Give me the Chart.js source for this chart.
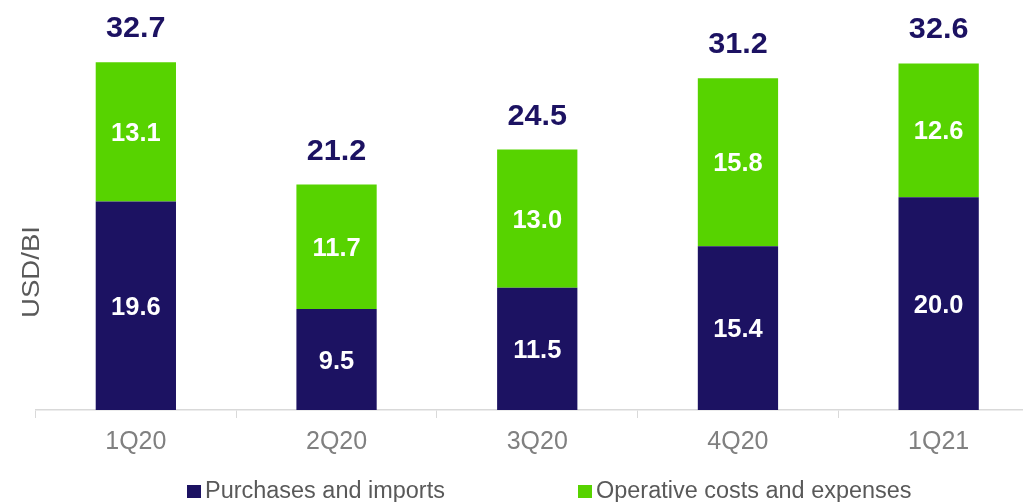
<!DOCTYPE html>
<html>
<head>
<meta charset="utf-8">
<script src="https://cdn.jsdelivr.net/npm/chart.js@4.4.1/dist/chart.umd.min.js"></script>
<style>
  html, body { margin: 0; padding: 0; background: #fff; overflow: hidden; }
  #wrap { position: relative; width: 1060px; height: 502px; }
</style>
</head>
<body>
<div id="wrap"><canvas id="mycanvas"></canvas></div>
<script>
var quarters = ["1Q20", "2Q20", "3Q20", "4Q20", "1Q21"];
var purchases = [19.6, 9.5, 11.5, 15.4, 20.0];
var operative = [13.1, 11.7, 13.0, 15.8, 12.6];
var totals = [32.7, 21.2, 24.5, 31.2, 32.6];

var navy = "#1c1262";
var green = "#57d300";
var fontFamily = "'Liberation Sans', Arial, sans-serif";

// text with a slight horizontal stretch
function drawText(ctx, text, x, y, font, color, sx, align) {
	ctx.save();
	ctx.font = font;
	ctx.fillStyle = color;
	ctx.textAlign = align || "center";
	ctx.textBaseline = "alphabetic";
	ctx.translate(x, y);
	ctx.scale(sx, 1);
	ctx.fillText(text, 0, 0);
	ctx.restore();
}

// value labels inside segments, totals above, axis title and legend
var labelPlugin = {
	id: "labels",
	afterDatasetsDraw: function(chart) {
		var ctx = chart.ctx;

		chart.data.datasets.forEach(function(ds, di) {
			var meta = chart.getDatasetMeta(di);
			meta.data.forEach(function(bar, i) {
				var mid = (bar.y + bar.base) / 2;
				drawText(ctx, ds.data[i].toFixed(1), bar.x, mid + 9, "bold 25px " + fontFamily, "#ffffff", 1.02);
			});
		});

		var top = chart.getDatasetMeta(1);
		top.data.forEach(function(bar, i) {
			drawText(ctx, totals[i].toFixed(1), bar.x, bar.y - 25, "bold 30px " + fontFamily, navy, 1.02);
		});

		// y axis title
		ctx.save();
		ctx.translate(39, 272);
		ctx.rotate(-Math.PI / 2);
		drawText(ctx, "USD/BI", 0, 0, "23px " + fontFamily, "#595959", 1.2);
		ctx.restore();

		// legend
		var legendX = [187, 578];
		chart.data.datasets.forEach(function(ds, di) {
			ctx.fillStyle = ds.backgroundColor;
			ctx.fillRect(legendX[di], 485, 14, 13);
			drawText(ctx, ds.label, legendX[di] + 18, 498, "23px " + fontFamily, "#595959", 1.02, "left");
		});
	}
};

var chartdata = {
	labels: quarters,
	datasets: [
		{
			label: "Purchases and imports",
			backgroundColor: navy,
			borderWidth: 0,
			barPercentage: 0.4,
			categoryPercentage: 1.0,
			data: purchases
		},
		{
			label: "Operative costs and expenses",
			backgroundColor: green,
			borderWidth: 0,
			barPercentage: 0.4,
			categoryPercentage: 1.0,
			data: operative
		}
	]
};

var ctx = document.getElementById("mycanvas");

var BarGraph = new Chart(ctx, {
	type: "bar",
	data: chartdata,
	plugins: [labelPlugin],
	options: {
		responsive: true,
		maintainAspectRatio: false,
		animation: false,
		layout: { padding: { left: 35.5, right: 21, top: 6, bottom: 36 } },
		plugins: {
			legend: { display: false },
			tooltip: { enabled: false }
		},
		scales: {
			x: {
				stacked: true,
				grid: {
					display: true,
					drawOnChartArea: false,
					drawTicks: true,
					tickLength: 8,
					color: "#d9d9d9",
					offset: true
				},
				border: { display: true, color: "#d9d9d9", width: 1.5 },
				ticks: {
					color: "#808080",
					padding: 9,
					font: { family: fontFamily, size: 25 }
				}
			},
			y: {
				stacked: true,
				display: false,
				min: 0,
				max: 38
			}
		}
	}
});
</script>
</body>
</html>
